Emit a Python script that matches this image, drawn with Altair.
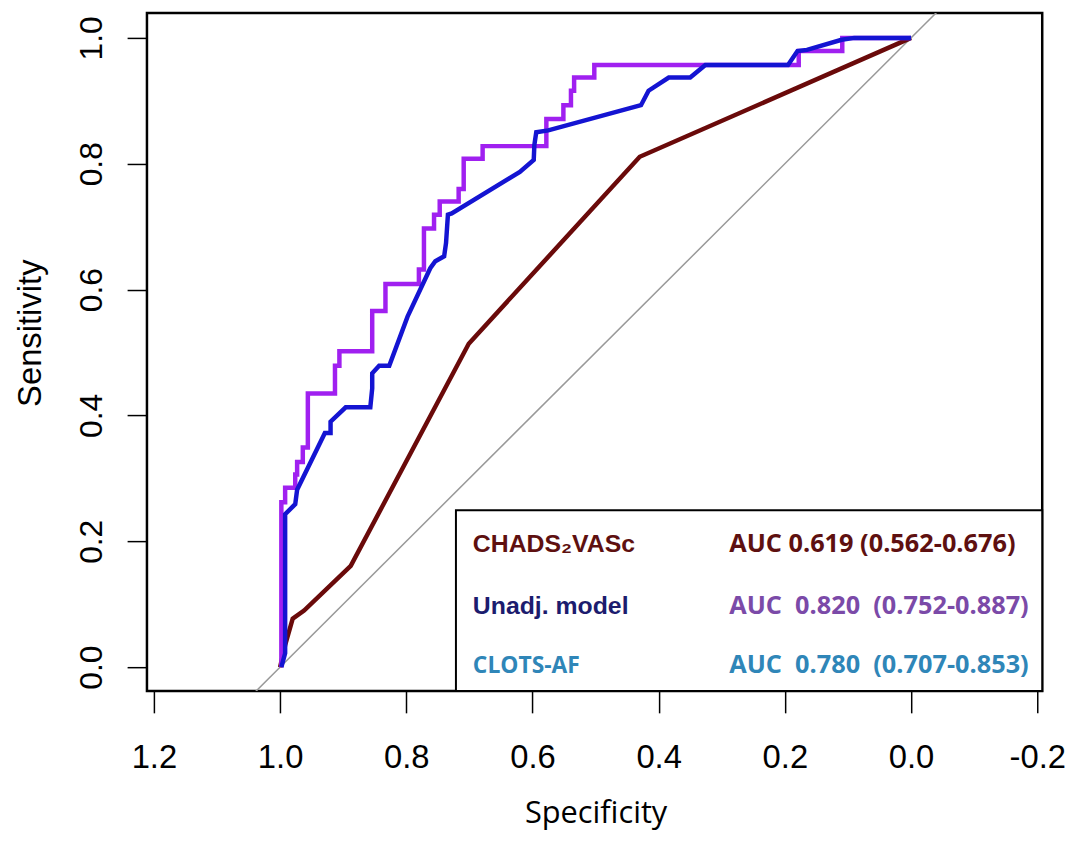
import altair as alt
import pandas as pd

# ---- ROC curves (specificity, sensitivity) ----
# CHADS2VASc (dark red)
chads_spec = [1.0, 0.992, 0.980, 0.962, 0.888, 0.701, 0.430, 0.0]
chads_sens = [0.0, 0.035, 0.077, 0.090, 0.161, 0.514, 0.811, 1.0]

# Unadjusted model (purple, stepped)
unadj_spec = [0.998, 0.998, 0.992, 0.992, 0.976, 0.976, 0.973, 0.973, 0.964, 0.964,
              0.956, 0.956, 0.913, 0.913, 0.906, 0.906, 0.854, 0.854, 0.833, 0.833,
              0.780, 0.780, 0.772, 0.772, 0.756, 0.756, 0.747, 0.747, 0.717, 0.717,
              0.709, 0.709, 0.679, 0.679, 0.578, 0.578, 0.551, 0.551, 0.539, 0.539,
              0.534, 0.534, 0.502, 0.502, 0.178, 0.178, 0.109, 0.109, 0.0]
unadj_sens = [0.0, 0.262, 0.262, 0.285, 0.285, 0.306, 0.306, 0.326, 0.326, 0.349,
              0.349, 0.435, 0.435, 0.479, 0.479, 0.502, 0.502, 0.566, 0.566, 0.609,
              0.609, 0.632, 0.632, 0.697, 0.697, 0.719, 0.719, 0.740, 0.740, 0.760,
              0.760, 0.808, 0.808, 0.828, 0.828, 0.871, 0.871, 0.893, 0.893, 0.916,
              0.916, 0.937, 0.937, 0.957, 0.957, 0.979, 0.979, 1.0, 1.0]

# CLOTS-AF (blue)
clots_spec = [0.998, 0.992, 0.992, 0.976, 0.973, 0.929, 0.920, 0.920, 0.896, 0.857,
              0.854, 0.854, 0.843, 0.827, 0.798, 0.762, 0.754, 0.740, 0.737, 0.734,
              0.728, 0.620, 0.598, 0.597, 0.594, 0.575, 0.428, 0.416, 0.384, 0.350,
              0.326, 0.195, 0.180, 0.165, 0.110, 0.090, 0.0]
clots_sens = [0.0, 0.022, 0.243, 0.259, 0.282, 0.372, 0.372, 0.390, 0.413, 0.413,
              0.443, 0.467, 0.479, 0.479, 0.557, 0.634, 0.645, 0.653, 0.674, 0.719,
              0.721, 0.787, 0.806, 0.830, 0.850, 0.853, 0.893, 0.916, 0.937, 0.937,
              0.957, 0.957, 0.979, 0.981, 0.997, 1.0, 1.0]

# Reference diagonal
diag_spec = [1.2, -0.2]
diag_sens = [-0.2, 1.2]

# Legend content
legend_names = ["CHADS\u2082VASc", "Unadj. model", "CLOTS-AF"]
legend_auc = ["AUC 0.619 (0.562-0.676)",
              "AUC\u00a0 0.820\u00a0 (0.752-0.887)",
              "AUC\u00a0 0.780\u00a0 (0.707-0.853)"]
name_colors = ["#5e1010", "#1c1c6e", "#2f86b8"]
auc_colors = ["#5e1010", "#7b4aa8", "#2f86b8"]
row_sens = [0.183, 0.085, -0.0095]
name_spec = 0.6945
auc_spec = 0.2882
legend_box = {"x": 0.7213, "x2": -0.2079, "y": 0.2492, "y2": -0.038}

x_ticks = [1.2, 1.0, 0.8, 0.6, 0.4, 0.2, 0.0, -0.2]
y_ticks = [0.0, 0.2, 0.4, 0.6, 0.8, 1.0]

# ---- build tables ----
def curve(name, sp, se):
    return pd.DataFrame({"curve": name, "spec": sp, "sens": se, "i": range(len(sp))})

df = pd.concat([
    curve("diag", diag_spec, diag_sens),
    curve("chads", chads_spec, chads_sens),
    curve("unadj", unadj_spec, unadj_sens),
    curve("clots", clots_spec, clots_sens),
])

xscale = alt.Scale(domain=[-0.2079, 1.2110], reverse=True, nice=False, zero=False)
yscale = alt.Scale(domain=[-0.0379, 1.0394], nice=False, zero=False)

xaxis = alt.Axis(values=x_ticks, grid=False, domain=False, tickColor="black", tickWidth=1.5,
                 tickSize=22, labelFont="Liberation Sans", labelFontSize=33, labelColor="black",
                 labelPadding=29, labelFlush=False, labelOverlap=False,
                 labelExpr="datum.value < 0 ? '-' + format(-datum.value, '.1f') : format(datum.value, '.1f')",
                 title="Specificity", titleFont="Open Sans", titleFontSize=31, titleFontWeight="normal",
                 titleColor="black", titleX=452, titleY=132, titleAlign="center",
                 titleBaseline="alphabetic")
yaxis = alt.Axis(values=y_ticks, grid=False, domain=False, tickColor="black", tickWidth=1.5,
                 tickSize=20, labelFont="Liberation Sans", labelFontSize=32, labelColor="black",
                 labelAngle=270, labelAlign="center", labelBaseline="alphabetic",
                 labelPadding=26, labelFlush=False, labelOverlap=False, format=".1f",
                 title="Sensitivity", titleFont="Liberation Sans", titleFontSize=33,
                 titleFontWeight="normal", titleColor="black", titleAngle=270,
                 titleAlign="center", titleBaseline="alphabetic", titleX=-107, titleY=322)

base = alt.Chart(df)

def line(name, color, width):
    return base.transform_filter(alt.datum.curve == name).mark_line(
        color=color, strokeWidth=width, clip=True, strokeJoin="miter"
    ).encode(
        x=alt.X("spec:Q", scale=xscale, axis=xaxis),
        y=alt.Y("sens:Q", scale=yscale, axis=yaxis),
        order="i:Q",
    )

diag = line("diag", "#999999", 1.5)
chads = line("chads", "#6a0a0a", 4.5)
unadj = line("unadj", "#a020f0", 4.5)
clots = line("clots", "#1414d2", 4.5)

box = alt.Chart(pd.DataFrame([legend_box])).mark_rect(
    fill="white", stroke="black", strokeWidth=2
).encode(x="x:Q", x2="x2", y="y:Q", y2="y2")

names_df = pd.DataFrame({"t": legend_names, "c": name_colors, "sens": row_sens,
                         "spec": [name_spec] * 3, "k": [0, 1, 2]})
auc_df = pd.DataFrame({"t": legend_auc, "c": auc_colors, "sens": row_sens,
                       "spec": [auc_spec] * 3})

def texts(data, font, size):
    return alt.Chart(data).mark_text(
        align="left", baseline="alphabetic", font=font, fontSize=size, fontWeight="bold"
    ).encode(x="spec:Q", y="sens:Q", text="t:N", color=alt.Color("c:N", scale=None))

names_a = texts(names_df[names_df.k < 2], "Liberation Sans", 25)
names_b = texts(names_df[names_df.k == 2], "Open Sans", 23)
aucs = texts(auc_df, "Open Sans", 25.5)

chart = alt.layer(diag, chads, unadj, clots, box, names_a, names_b, aucs).properties(
    width=902, height=683,
    autosize=alt.AutoSizeParams(type="none"),
    padding={"left": 140, "top": 2, "right": 30, "bottom": 150},
).configure(background="white").configure_view(stroke="black", strokeWidth=2.5)

chart.save("out.html", embed_options={"renderer": "svg", "actions": False})
